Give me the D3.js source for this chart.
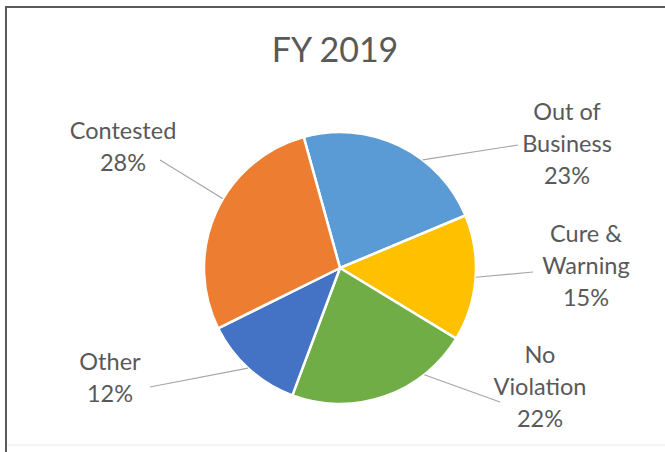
<!DOCTYPE html>
<html>
<head>
<meta charset="utf-8">
<script src="https://cdn.jsdelivr.net/npm/d3@7"></script>
<style>
  html, body { margin: 0; padding: 0; background: #fff; }
  svg { display: block; }
  text { font-family: Lato, "Open Sans", sans-serif; fill: #595959; }
</style>
</head>
<body>
<svg id="chart" width="665" height="452"></svg>
<script>
// FY 2019 case outcomes (percent of total)
const categories = ["Out of Business", "Cure & Warning", "No Violation", "Other", "Contested"];
const values = [23, 15, 22, 12, 28];
const labelLines = [["Out of", "Business"], ["Cure &", "Warning"], ["No", "Violation"], ["Other"], ["Contested"]];
const colors = ["#5B9BD5", "#FFC000", "#70AD47", "#4472C4", "#ED7D31"];
const title = "FY 2019";

// Label placement: text centre, first baseline, leader start angle (deg) and leader end
const labelLayout = [
  { x: 567, y: 120, angle: 37.4, end: [518, 145] },
  { x: 586, y: 242, angle: 93.9, end: [533, 272] },
  { x: 540, y: 363, angle: 141.7, end: [500, 402] },
  { x: 110, y: 370, angle: 222.6, end: [150, 387] },
  { x: 123, y: 139, angle: 300.6, end: [160, 160] }
];

const W = 665, H = 452;
const cx = 340, cy = 268, R = 136;
const startDeg = -15.5;
const lineGap = 32;

const svg = d3.select("#chart");

// chart frame
svg.append("line").attr("x1", 5).attr("y1", 7).attr("x2", W).attr("y2", 7)
  .attr("stroke", "#5a5a5a").attr("stroke-width", 2);
svg.append("line").attr("x1", 6).attr("y1", 6).attr("x2", 6).attr("y2", H)
  .attr("stroke", "#5a5a5a").attr("stroke-width", 2);
svg.append("line").attr("x1", 7).attr("y1", 445).attr("x2", W).attr("y2", 445)
  .attr("stroke", "#ececec").attr("stroke-width", 1);

svg.append("text")
  .attr("x", 335).attr("y", 62)
  .attr("text-anchor", "middle")
  .style("font-size", "34px")
  .text(title);

const pie = d3.pie().sort(null).value(d => d)
  .startAngle(startDeg * Math.PI / 180)
  .endAngle(startDeg * Math.PI / 180 + 2 * Math.PI);
const arc = d3.arc().innerRadius(0).outerRadius(R);

const g = svg.append("g").attr("transform", `translate(${cx},${cy})`);
g.selectAll("path.slice")
  .data(pie(values))
  .join("path")
  .attr("class", "slice")
  .attr("d", arc)
  .attr("fill", (d, i) => colors[i])
  .attr("stroke", "#fff")
  .attr("stroke-width", 2.5)
  .attr("stroke-linejoin", "round");

// leader lines
labelLayout.forEach((L, i) => {
  const a = L.angle * Math.PI / 180;
  const sx = cx + R * Math.sin(a), sy = cy - R * Math.cos(a);
  svg.append("line")
    .attr("x1", sx).attr("y1", sy).attr("x2", L.end[0]).attr("y2", L.end[1])
    .attr("stroke", "#a6a6a6").attr("stroke-width", 1.2);
});

// data labels: category name lines followed by percentage
labelLayout.forEach((L, i) => {
  const lines = labelLines[i].concat([values[i] + "%"]);
  const t = svg.append("text")
    .attr("text-anchor", "middle")
    .style("font-size", "23.5px");
  lines.forEach((s, k) => {
    t.append("tspan").attr("x", L.x).attr("y", L.y + k * lineGap).text(s);
  });
});
</script>
</body>
</html>
